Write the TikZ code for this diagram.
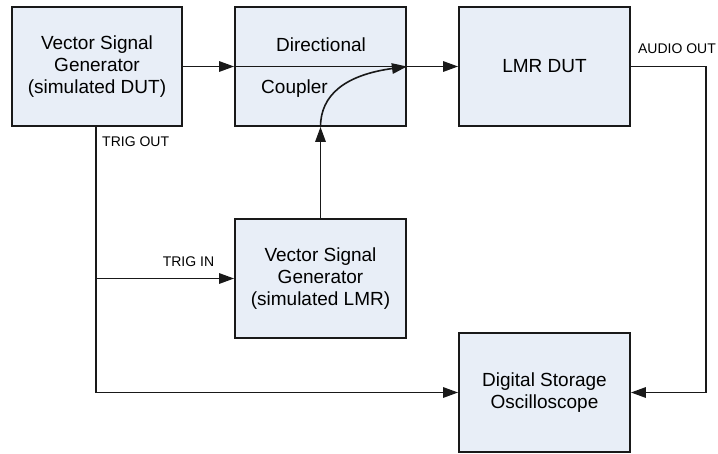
\documentclass[tikz,border=0pt]{standalone}
\usepackage{fontspec}
\setmainfont{Liberation Sans}
\usetikzlibrary{arrows.meta}
\definecolor{boxfill}{RGB}{232,238,247}
\definecolor{edge}{RGB}{25,25,25}
\begin{document}
\begin{tikzpicture}[x=1pt,y=-1pt,
  blk/.style={draw=edge,fill=boxfill,line width=1.9pt,minimum width=170pt,minimum height=119pt,inner sep=0pt,align=center,font=\fontsize{19}{22}\selectfont},
  btxt/.style={inner sep=0pt,font=\fontsize{19}{22}\selectfont},
  lbl/.style={inner sep=0pt,font=\fontsize{14}{16}\selectfont},
  con/.style={draw=edge,line width=1.6pt},
  arr/.style={con,-{Triangle[length=15pt,width=10.5pt]}}]
\useasboundingbox (0,0) rectangle (718,453);
\node[blk] (b1) at (97,66.5) {Vector Signal\\Generator\\(simulated DUT)};
\node[blk,minimum width=171pt] (cpl) at (320.5,66.5) {};
\node[btxt] (cpl1) at (321,45) {Directional};
\node[btxt] (cpl2) at (294.5,89) {Coupler};
\node[blk,minimum width=171pt] (lmr) at (544.5,66.5) {LMR DUT};
\node[blk,minimum width=171pt] (vsgl) at (320.5,278.5) {Vector Signal\\Generator\\(simulated LMR)};
\node[blk,minimum width=171pt] (dso) at (544.5,392.5) {Digital Storage\\Oscilloscope};
\coordinate (tout) at (96,126);
\coordinate (ao) at (706,66.5);
% main RF path
\draw[arr] (b1.east) -- (cpl.west);
\draw[arr] (cpl.west) -- (lmr.west);
% coupled path
\draw[arr] (vsgl.north) -- (cpl.south);
\draw[arr] (cpl.south) .. controls (320.5,95) and (345,75) .. (cpl.east);
% trigger
\draw[arr] (tout) |- (dso.west);
\draw[arr] (tout |- vsgl.west) -- (vsgl.west);
% audio
\draw[arr] (lmr.east) -- (ao) |- (dso.east);
% labels
\node[lbl,anchor=west] (lto) at (102,142) {TRIG OUT};
\node[lbl] (lti) at (188.5,262) {TRIG IN};
\node[lbl] (lao) at (677,49) {AUDIO OUT};
\end{tikzpicture}
\end{document}
